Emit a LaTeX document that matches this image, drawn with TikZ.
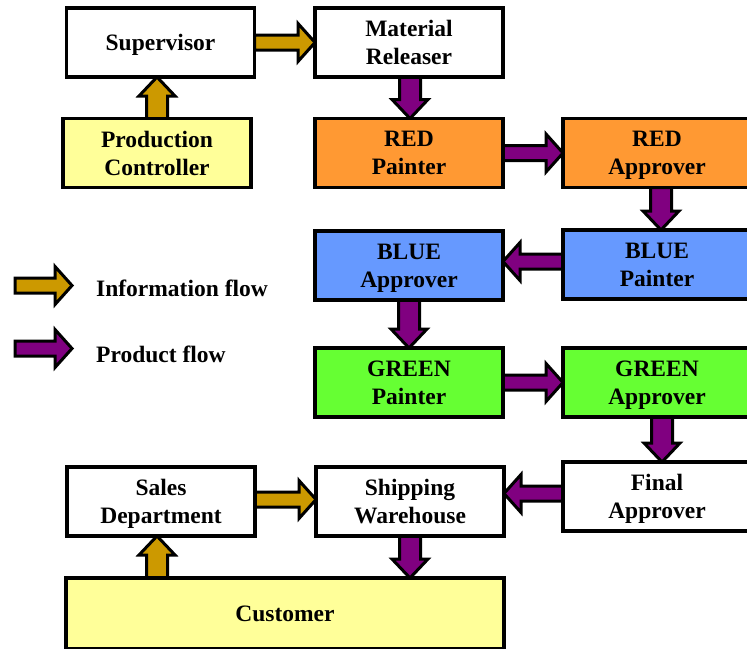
\documentclass[tikz,border=0pt]{standalone}
\usepackage{fontspec}
\setmainfont{Liberation Serif}
\usetikzlibrary{calc,backgrounds}
\definecolor{infoc}{HTML}{CC9900}
\definecolor{prodc}{HTML}{800080}
\definecolor{redc}{HTML}{FF9933}
\definecolor{bluec}{HTML}{6699FF}
\definecolor{greenc}{HTML}{66FF33}
\definecolor{yelc}{HTML}{FFFF99}
% #1 start, #2 end, #3 colour, #4 shaft half width, #5 head half width, #6 head length
\newcommand\blkarrow[6]{%
  \coordinate (bA) at #1;
  \coordinate (bB) at #2;
  \coordinate (bC) at ($(bB)!#6!(bA)$);
  \draw[arrowline,fill=#3]
    ($(bA)!#4!90:(bB)$) -- ($(bC)!#4!-90:(bA)$) -- ($(bC)!#5!-90:(bA)$) -- (bB)
    -- ($(bC)!#5!90:(bA)$) -- ($(bC)!#4!90:(bA)$) -- ($(bA)!#4!-90:(bB)$) -- cycle;
}
\newcommand\harrow[3]{\blkarrow{#1}{#2}{#3}{7.5pt}{19pt}{17pt}}
\newcommand\varrow[3]{\blkarrow{#1}{#2}{#3}{10.5pt}{18pt}{19pt}}
\tikzset{
  box/.style={draw=black,line width=3.8pt,rectangle,inner sep=0pt,outer sep=0pt,
    minimum width=188pt,minimum height=69pt,align=center,text depth=-4pt,
    font=\fontsize{23.5}{28}\selectfont\bfseries},
  arrowline/.style={draw=black,line width=3pt,miter limit=10},
  legtext/.style={anchor=west,inner sep=0pt,font=\fontsize{23.5}{28}\selectfont\bfseries}
}
\begin{document}
\begin{tikzpicture}[x=1pt,y=-1pt]
\clip (0,0) rectangle (747,648);
% boxes (centres)
\node[box,fill=white] (sup) at (160.5,42.5) {Supervisor};
\node[box,fill=yelc] (pc) at (157,153) {Production\\Controller};
\node[box,fill=white] (mr) at (409,42.5) {Material\\Releaser};
\node[box,fill=redc] (rp) at (409,153) {RED\\Painter};
\node[box,fill=redc] (ra) at (657,153) {RED\\Approver};
\node[box,fill=bluec] (bp) at (657,264.5) {BLUE\\Painter};
\node[box,fill=bluec] (ba) at (409,265.5) {BLUE\\Approver};
\node[box,fill=greenc] (gp) at (409,382.5) {GREEN\\Painter};
\node[box,fill=greenc] (ga) at (657,382.5) {GREEN\\Approver};
\node[box,fill=white] (fa) at (657,496.5) {Final\\Approver};
\node[box,fill=white] (sd) at (161,501.5) {Sales\\Department};
\node[box,fill=white] (sw) at (410,501.5) {Shipping\\Warehouse};
\node[box,fill=yelc,minimum width=438pt,minimum height=71pt] (cu) at (285,613.5) {Customer};
% legend
\coordinate (li1) at (15,285.5);
\coordinate (li2) at (72,285.5);
\coordinate (lp1) at (15,348.5);
\coordinate (lp2) at (72,348.5);
\node[legtext] (lit) at (96,288) {Information flow};
\node[legtext] (lpt) at (96,354) {Product flow};
\begin{scope}[on background layer]
\harrow{(sup.east)}{(mr.west)}{infoc}
\varrow{(pc.north)}{(pc.north |- sup.south)}{infoc}
\varrow{([xshift=1pt]mr.south)}{([xshift=1pt]rp.north)}{prodc}
\harrow{(rp.east)}{(ra.west)}{prodc}
\varrow{([xshift=4pt]ra.south)}{([xshift=4pt]bp.north)}{prodc}
\harrow{([yshift=3pt]bp.west)}{([yshift=3pt]bp.west -| ba.east)}{prodc}
\varrow{(ba.south)}{(ba.south |- gp.north)}{prodc}
\harrow{(gp.east)}{(gp.east -| ga.west)}{prodc}
\varrow{([xshift=5pt]ga.south)}{([xshift=5pt]fa.north)}{prodc}
\harrow{([yshift=3pt]fa.west)}{([yshift=3pt]fa.west -| sw.east)}{prodc}
\harrow{([yshift=2pt]sd.east)}{([yshift=2pt]sw.west)}{infoc}
\varrow{([xshift=-4pt]sd.south |- cu.north)}{([xshift=-4pt]sd.south)}{infoc}
\varrow{(sw.south)}{(sw.south |- cu.north)}{prodc}
\end{scope}
\harrow{(li1)}{(li2)}{infoc}
\harrow{(lp1)}{(lp2)}{prodc}
\end{tikzpicture}
\end{document}
